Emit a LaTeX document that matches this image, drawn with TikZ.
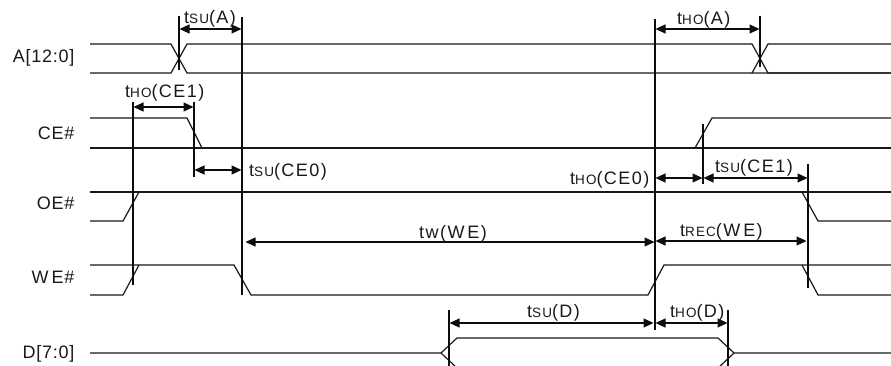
\documentclass[tikz,border=0pt]{standalone}
\usepackage{fontspec}
\setmainfont{Liberation Sans}
\newfontfamily\tfam[LetterSpace=8]{Liberation Sans}
\newfontfamily\sfam[LetterSpace=4]{Liberation Sans}
\usetikzlibrary{arrows.meta}
\newcommand{\tsm}[1]{{\fontsize{13.5}{14}\selectfont #1}}
\tikzset{
  x=1pt,y=-1pt,
  wave/.style={draw=black!90,line width=1.2pt,line join=miter},
  guide/.style={draw=black!95,line width=1.2pt},
  dim/.style={draw=black!95,line width=1.15pt,{Triangle[length=10pt,width=9pt]}-{Triangle[length=10pt,width=9pt]},shorten <=0.5pt,shorten >=0.5pt},
  tlabel/.style={inner sep=0pt,anchor=base west,font=\tfam\fontsize{18}{19}\selectfont,text=black!90},
  sig/.style={inner sep=0pt,anchor=base east,font=\sfam\fontsize{18}{19}\selectfont,text=black!90}
}
\begin{document}
\begin{tikzpicture}
\useasboundingbox (0,0) rectangle (891,366);
% signal names
\node[sig] (nA) at (74.5,62.5) {A[12:0]};
\node[sig] (nCE) at (74.5,140) {CE\#};
\node[sig] (nOE) at (74.5,209) {OE\#};
\node[sig] (nWE) at (74.5,283) {W\,E\#};
\node[sig] (nD) at (74.5,358) {D[7:0]};
% waveforms
\draw[wave] (90,44)--(171,44)--(187,73)--(892,73);
\draw[wave] (90,73)--(171,73)--(187,44)--(752,44)--(768,73)--(892,73);
\draw[wave] (752,73)--(768,44)--(892,44);
\draw[wave] (90,118)--(187,118)--(202,148);
\draw[wave] (90,148)--(892,148);
\draw[wave] (695,148)--(712,118)--(892,118);
\draw[wave] (90,221)--(123,221)--(139,192);
\draw[wave] (90,192)--(892,192);
\draw[wave] (802,192)--(818,221)--(892,221);
\draw[wave] (90,295)--(123,295)--(139,265);
\draw[wave] (90,265)--(234,265)--(251,295)--(648,295)--(664,265)--(892,265);
\draw[wave] (802,265)--(818,295)--(892,295);
\draw[wave] (90,353)--(441,353)--(457,338)--(718,338)--(734,353)--(892,353);
\draw[wave] (441,353)--(457,368)--(718,368)--(734,353);
% guides
\coordinate (a1) at (179,16); \coordinate (a2) at (179,70);
\coordinate (b1) at (242,17); \coordinate (b2) at (242,295);
\coordinate (c1) at (133,102); \coordinate (c2) at (133,285);
\coordinate (d1) at (194,102); \coordinate (d2) at (194,177);
\coordinate (e1) at (655,19); \coordinate (e2) at (655,330);
\coordinate (f1) at (760,16); \coordinate (f2) at (760,67);
\coordinate (g1) at (703,124); \coordinate (g2) at (703,184);
\coordinate (h1) at (808,164); \coordinate (h2) at (808,288);
\coordinate (i1) at (449,310); \coordinate (i2) at (449,367);
\coordinate (j1) at (728,310); \coordinate (j2) at (728,367);
\foreach \s in {a,b,c,d,e,f,g,h,i,j} \draw[guide] (\s1)--(\s2);
% dimension arrows
\draw[dim] (a1|-0,29)--(b1|-0,29);
\draw[dim] (c1|-0,107)--(d1|-0,107);
\draw[dim] (d1|-0,170)--(b1|-0,170);
\draw[dim] (e1|-0,29)--(f1|-0,29);
\draw[dim] (e1|-0,178)--(g1|-0,178);
\draw[dim] (g1|-0,178)--(h1|-0,178);
\draw[dim] (245,242)--(e1|-0,242);
\draw[dim] (e1|-0,241)--(807,241);
\draw[dim] (i1|-0,323)--(654,323);
\draw[dim] (e1|-0,323)--(j1|-0,323);
% labels
\node[tlabel] (l1) at (184,23.5) {t\tsm{SU}(A)};
\node[tlabel] (l2) at (125,98) {t\tsm{HO}(CE1)};
\node[tlabel] (l3) at (249,177) {t\tsm{SU}(CE0)};
\node[tlabel] (l4) at (677,25) {t\tsm{HO}(A)};
\node[tlabel] (l5) at (570,185) {t\tsm{HO}(CE0)};
\node[tlabel] (l6) at (715,172.5) {t\tsm{SU}(CE1)};
\node[tlabel] (l7) at (419,238) {tw(W\,E)};
\node[tlabel] (l8) at (680,236.5) {t\tsm{REC}(W\,E)};
\node[tlabel] (l9) at (527,317) {t\tsm{SU}(D)};
\node[tlabel] (l10) at (670,317) {t\tsm{HO}(D)};
\end{tikzpicture}
\end{document}
